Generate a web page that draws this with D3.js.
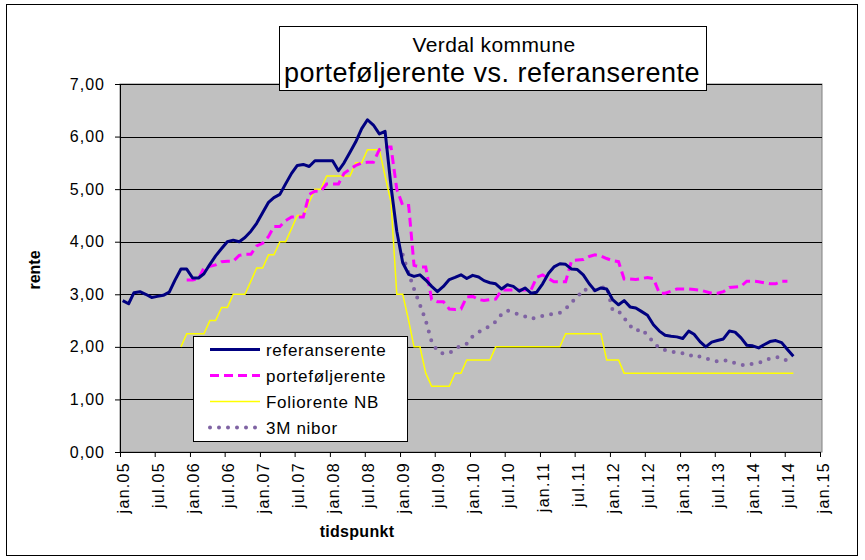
<!DOCTYPE html>
<meta charset="utf-8">
<style>
  body { margin: 0; background: #fff; }
  svg { display: block; font-family: "Liberation Sans", Arial, sans-serif; }
  .grid line { stroke: #000; stroke-width: 1px; }
  .axis path, .axis line { stroke: #000; }
  .axis text { font-size: 16px; letter-spacing: 1px; fill: #000; }
  .line { fill: none; }
  .ref-line { stroke: #000080; stroke-width: 3px; stroke-linejoin: round; }
  .port-line { stroke: #ff00ff; stroke-width: 3px; stroke-dasharray: 9,5; }
  .folio-line { stroke: #ffff00; stroke-width: 1.5px; }
  .nibor-line { stroke: #7f63a3; stroke-width: 4px; stroke-linecap: round; stroke-dasharray: 0,9; }
</style>
<body>
<script src="https://cdn.jsdelivr.net/npm/d3@7"></script>
<script>

// monthly values, first value is the month index (0 = jan.05) given in *Start
var refStart = 0;
var referanserente = [2.88, 2.82, 3.03, 3.05, 3.0, 2.94, 2.96, 2.98, 3.04, 3.27,
  3.48, 3.48, 3.31, 3.31, 3.39, 3.57, 3.73, 3.87, 4.0, 4.03,
  4.0, 4.08, 4.2, 4.35, 4.55, 4.75, 4.84, 4.9, 5.1, 5.3,
  5.45, 5.47, 5.43, 5.54, 5.54, 5.54, 5.54, 5.35, 5.5, 5.7,
  5.9, 6.15, 6.32, 6.22, 6.05, 6.1, 5.05, 4.2, 3.6, 3.38,
  3.34, 3.37, 3.27, 3.15, 3.05, 3.15, 3.28, 3.32, 3.37, 3.3,
  3.36, 3.33, 3.26, 3.22, 3.2, 3.1, 3.18, 3.15, 3.06, 3.12,
  3.02, 3.04, 3.2, 3.4, 3.52, 3.58, 3.57, 3.48, 3.47, 3.37,
  3.2, 3.07, 3.12, 3.1, 2.9, 2.8, 2.88, 2.76, 2.74, 2.67,
  2.6, 2.42, 2.3, 2.22, 2.2, 2.19, 2.16, 2.3, 2.24, 2.1,
  2.0, 2.09, 2.12, 2.15, 2.3, 2.28, 2.17, 2.03, 2.02, 1.98,
  2.04, 2.1, 2.12, 2.08, 1.95, 1.82];

var portStart = 11;
var portefoljerente = [3.27, 3.27, 3.3, 3.5, 3.53, 3.56, 3.62, 3.63, 3.63,
  3.74, 3.76, 3.76, 3.92, 3.97, 4.1, 4.29, 4.29, 4.4, 4.47,
  4.47, 4.47, 4.9, 4.96, 4.96, 5.1, 5.1, 5.1, 5.3, 5.38,
  5.45, 5.5, 5.51, 5.51, 5.75, 5.8, 5.8, 5.0, 4.69, 4.69,
  3.55, 3.52, 3.52, 2.9, 2.86, 2.86, 2.72, 2.71, 2.72, 2.95,
  2.96, 2.9, 2.88, 2.9, 2.91, 3.08, 3.08, 3.08, 3.08, 3.08,
  3.08, 3.32, 3.37, 3.3, 3.24, 3.24, 3.24, 3.64, 3.65, 3.66,
  3.72, 3.75, 3.73, 3.68, 3.64, 3.62, 3.29, 3.29, 3.28, 3.3,
  3.32, 3.3, 3.02, 3.02, 3.06, 3.1, 3.1, 3.1, 3.09, 3.08,
  3.05, 3.02, 3.02, 3.05, 3.13, 3.14, 3.15, 3.25, 3.25, 3.24,
  3.22, 3.2, 3.2, 3.25, 3.25];

var folioStart = 10;
var foliorente = [2.0, 2.25, 2.25, 2.25, 2.25, 2.5, 2.5, 2.75, 2.75, 3.0,
  3.0, 3.0, 3.25, 3.5, 3.5, 3.75, 3.75, 4.0, 4.0, 4.25,
  4.5, 4.5, 4.75, 5.0, 5.0, 5.25, 5.25, 5.25, 5.25, 5.25,
  5.5, 5.5, 5.75, 5.75, 5.75, 5.25, 4.75, 3.0, 3.0, 2.5,
  2.0, 2.0, 1.5, 1.25, 1.25, 1.25, 1.25, 1.5, 1.5, 1.75,
  1.75, 1.75, 1.75, 1.75, 2.0, 2.0, 2.0, 2.0, 2.0, 2.0,
  2.0, 2.0, 2.0, 2.0, 2.0, 2.0, 2.25, 2.25, 2.25, 2.25,
  2.25, 2.25, 2.25, 1.75, 1.75, 1.75, 1.5, 1.5, 1.5, 1.5,
  1.5, 1.5, 1.5, 1.5, 1.5, 1.5, 1.5, 1.5, 1.5, 1.5,
  1.5, 1.5, 1.5, 1.5, 1.5, 1.5, 1.5, 1.5, 1.5, 1.5,
  1.5, 1.5, 1.5, 1.5, 1.5, 1.5];

var niborStart = 48;
var nibor = [3.75, 3.4, 3.1, 2.8, 2.5, 2.1, 1.92, 1.87, 1.88, 1.95,
  2.03, 2.06, 2.2, 2.28, 2.33, 2.4, 2.48, 2.62, 2.69, 2.66,
  2.61, 2.58, 2.53, 2.56, 2.59, 2.61, 2.63, 2.65, 2.72, 2.85,
  2.94, 3.1, 3.07, 3.08, 3.12, 3.15, 2.7, 2.68, 2.55, 2.4,
  2.3, 2.34, 2.22, 2.09, 1.97, 1.94, 1.92, 1.88, 1.88, 1.86,
  1.8, 1.82, 1.78, 1.75, 1.72, 1.74, 1.74, 1.69, 1.66, 1.65,
  1.68, 1.7, 1.72, 1.78, 1.8, 1.8, 1.73];

var tickLabels = ["jan.05", "jul.05", "jan.06", "jul.06", "jan.07", "jul.07",
  "jan.08", "jul.08", "jan.09", "jul.09", "jan.10", "jul.10", "jan.11",
  "jul.11", "jan.12", "jul.12", "jan.13", "jul.13", "jan.14", "jul.14", "jan.15"];

var legendLabels = ["referanserente", "porteføljerente", "Foliorente NB", "3M nibor"];

var W = 865, H = 560;
var plot = {left: 120, right: 820, top: 84, bottom: 452};

var x = d3.scaleTime()
    .domain([new Date(2005, 0, 1), new Date(2015, 0, 1)])
    .range([plot.left, plot.right]);
var y = d3.scaleLinear().domain([0, 7]).range([plot.bottom, plot.top]);

function toPoints(start, values) {
  return values.map(function(v, i) {
    return {date: new Date(2005, start + i, 15), value: v};
  });
}

var line = d3.line()
    .x(function(d) { return x(d.date); })
    .y(function(d) { return y(d.value); });

var svg = d3.select("body").append("svg")
    .attr("width", W)
    .attr("height", H);

// outer chart border
svg.append("rect")
    .attr("x", 6.5).attr("y", 4.5)
    .attr("width", 851).attr("height", 551)
    .attr("fill", "#fff").attr("stroke", "#000");

// plot area
svg.append("rect")
    .attr("x", plot.left).attr("y", plot.top)
    .attr("width", plot.right - plot.left + 2)
    .attr("height", plot.bottom - plot.top)
    .attr("fill", "#c0c0c0").attr("stroke", "#808080");

svg.append("g")
    .attr("class", "grid")
    .selectAll("line")
    .data(d3.range(1, 8))
    .enter().append("line")
    .attr("x1", plot.left).attr("x2", plot.right + 2)
    .attr("y1", function(d) { return Math.round(y(d)) + 0.5; })
    .attr("y2", function(d) { return Math.round(y(d)) + 0.5; });

// series
var series = [
  {cls: "folio-line", pts: toPoints(folioStart, foliorente)},
  {cls: "nibor-line", pts: toPoints(niborStart, nibor)},
  {cls: "port-line", pts: toPoints(portStart, portefoljerente)},
  {cls: "ref-line", pts: toPoints(refStart, referanserente)}
];
series.forEach(function(s) {
  svg.append("path")
    .datum(s.pts)
    .attr("class", "line " + s.cls)
    .attr("d", line);
});

// axes
var xAxis = svg.append("g")
    .attr("class", "axis")
    .attr("transform", "translate(0," + plot.bottom + ")")
    .call(d3.axisBottom(x)
      .ticks(d3.timeMonth.every(6))
      .tickSize(5)
      .tickSizeOuter(0)
      .tickFormat(function(d, i) { return tickLabels[i]; }));
xAxis.selectAll("text")
    .attr("transform", "rotate(-90)")
    .attr("text-anchor", "end")
    .attr("x", -10)
    .attr("y", 3)
    .attr("dy", "0.35em")
    .style("letter-spacing", "1.3px");

svg.append("g")
    .attr("class", "axis")
    .attr("transform", "translate(" + plot.left + ",0)")
    .call(d3.axisLeft(y)
      .ticks(7)
      .tickSize(5)
      .tickSizeOuter(0)
      .tickPadding(10)
      .tickFormat(function(d) { return d3.format(".2f")(d).replace(".", ","); }));

// axis titles
svg.append("text")
    .attr("transform", "translate(40,270) rotate(-90)")
    .attr("text-anchor", "middle")
    .style("font-size", "16px").style("font-weight", "bold")
    .text("rente");

svg.append("text")
    .attr("x", 357).attr("y", 537)
    .attr("text-anchor", "middle")
    .style("font-size", "16px").style("font-weight", "bold")
    .style("letter-spacing", "0.3px")
    .text("tidspunkt");

// title box
svg.append("rect")
    .attr("x", 279.5).attr("y", 26.5)
    .attr("width", 427).attr("height", 64)
    .attr("fill", "#fff").attr("stroke", "#000");
svg.append("text")
    .attr("x", 494).attr("y", 52)
    .attr("text-anchor", "middle")
    .style("font-size", "21px").style("letter-spacing", "0.4px")
    .text("Verdal kommune");
svg.append("text")
    .attr("x", 492).attr("y", 82)
    .attr("text-anchor", "middle")
    .style("font-size", "27px").style("letter-spacing", "0.5px")
    .text("porteføljerente vs. referanserente");

// legend
var legend = svg.append("g");
legend.append("rect")
    .attr("x", 193.5).attr("y", 336.5)
    .attr("width", 214).attr("height", 105)
    .attr("fill", "#fff").attr("stroke", "#000");
var legendCls = ["ref-line", "port-line", "folio-line", "nibor-line"];
legendLabels.forEach(function(lbl, i) {
  var cy = 349.5 + i * 26;
  legend.append("line")
    .attr("class", "line " + legendCls[i])
    .attr("x1", 210).attr("x2", 260)
    .attr("y1", cy).attr("y2", cy);
  legend.append("text")
    .attr("x", 266).attr("y", cy + 6)
    .style("font-size", "17px").style("letter-spacing", "0.7px")
    .text(lbl);
});

</script>
</body>
